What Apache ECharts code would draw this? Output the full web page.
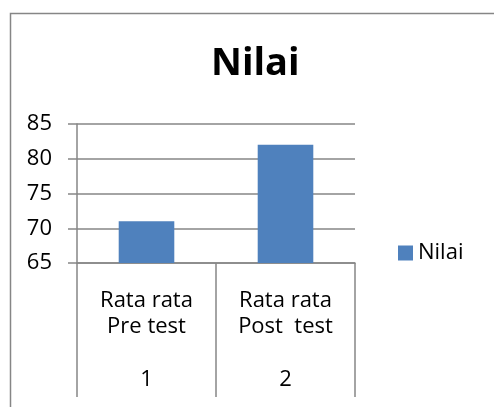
<!DOCTYPE html>
<html><head><meta charset="utf-8">
<script src="https://cdn.jsdelivr.net/npm/echarts@6/dist/echarts.min.js"></script>
<style>html,body{margin:0;padding:0;background:#fff}#c{width:494px;height:407px}</style>
</head><body><div id="c"></div>
<script>
const categories = ["Rata rata\nPre test", "Rata rata\nPost  test"];
const indexLabels = ["1", "2"];
const values = [71, 82];
const seriesName = "Nilai";
const yTicks = [65, 70, 75, 80, 85];

const FONT = "'Open Sans', 'Noto Sans', sans-serif";
const GRAY = '#868686';
const chart = echarts.init(document.getElementById('c'));
chart.setOption({
  animation: false,
  backgroundColor: '#fff',
  graphic: [{
    type: 'rect', left: 8, top: 11,
    shape: { width: 500, height: 420 },
    style: { fill: 'none', stroke: GRAY, lineWidth: 1.5 }
  }],
  title: {
    text: 'Nilai', left: 211, top: 45,
    textStyle: { fontFamily: FONT, fontSize: 38, fontWeight: 'bold', color: '#000' },
    padding: 0
  },
  legend: {
    data: [seriesName], left: 398, top: 242, itemWidth: 15, itemHeight: 15,
    icon: 'rect', padding: 0, itemGap: 5,
    textStyle: { fontFamily: FONT, fontSize: 22, color: '#000', padding: [0, 0, 0, 0] }
  },
  grid: [
    { left: 77, right: 139, top: 124, bottom: 144 },
    { left: 77, right: 139, top: 263, bottom: 10 }
  ],
  xAxis: [{
    type: 'category', gridIndex: 0,
    data: categories.map((c, i) => c + '\n\n' + indexLabels[i]),
    axisLine: { lineStyle: { color: GRAY, width: 1.5 } },
    axisTick: { show: false },
    axisLabel: { fontFamily: FONT, fontSize: 22, color: '#000', lineHeight: 26.5, margin: 24, interval: 0 }
  }, {
    type: 'category', gridIndex: 1, data: categories,
    axisLine: { show: false }, axisTick: { show: false }, axisLabel: { show: false },
    splitLine: { show: true, interval: 0, lineStyle: { color: GRAY, width: 1.5 } }
  }],
  yAxis: [{
    type: 'value', gridIndex: 0, min: 65, max: 85, interval: 5,
    axisLine: { show: true, lineStyle: { color: GRAY, width: 1.5 } },
    axisTick: { show: true, length: 9, lineStyle: { color: GRAY, width: 1.5 } },
    splitLine: { lineStyle: { color: GRAY, width: 1.5 } },
    axisLabel: { fontFamily: FONT, fontSize: 22, color: '#000', margin: 25,
      formatter: v => yTicks.includes(v) ? String(v) : '' }
  }, {
    type: 'value', gridIndex: 1, show: false, splitLine: { show: false }
  }],
  series: [{
    name: seriesName, type: 'bar', data: values, barWidth: '40%',
    xAxisIndex: 0, yAxisIndex: 0,
    itemStyle: { color: '#4F81BD' }
  }]
});
</script></body></html>
